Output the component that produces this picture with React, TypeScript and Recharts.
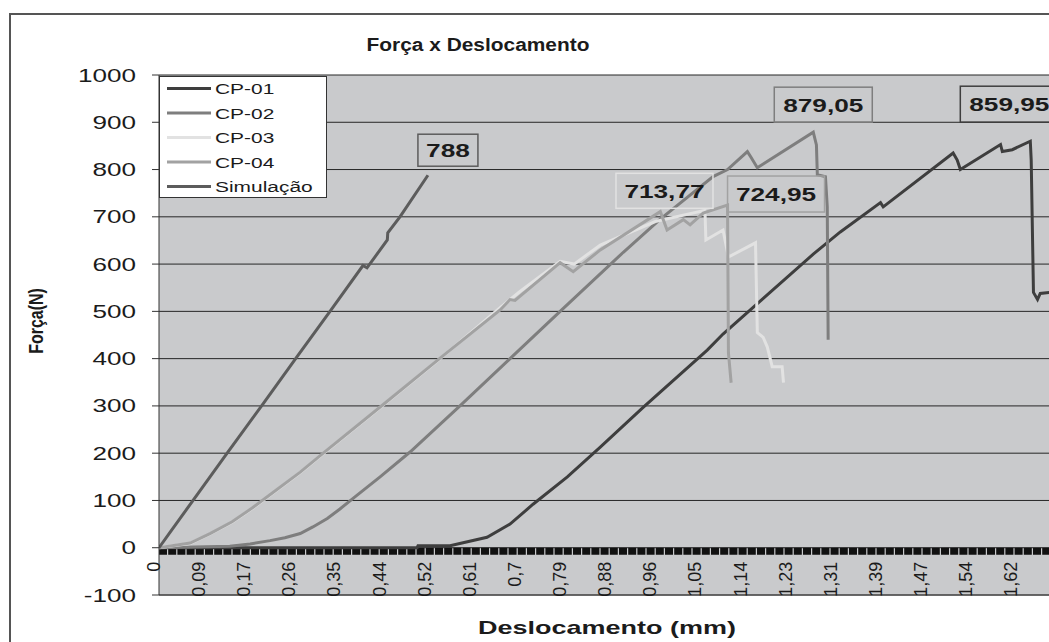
import React from "react";
import {
  LineChart,
  Line,
  XAxis,
  YAxis,
  CartesianGrid,
  Legend,
  ReferenceLine,
  ReferenceDot,
} from "recharts";

const FONT = "'Liberation Sans', Arial, Helvetica, sans-serif";

// x = leitura (amostra), y = força em N
const cp01: [number, number][] = [
  [0, 0], [57.2, 0], [57.4, 4], [64.5, 4], [72.7, 22], [77.8, 50], [82.9, 92],
  [90.5, 150], [97.8, 213], [107.3, 297], [121.5, 418], [125, 452], [133.3, 522],
  [145, 621], [151, 668], [159.9, 730], [160.5, 721], [176, 835], [176.9, 820],
  [177.6, 800], [186.5, 853], [186.9, 838], [189.1, 842], [193.1, 859.95],
  [193.3, 820], [193.8, 540], [194.7, 525], [195.3, 538], [197.3, 540], [203, 545],
];

const cp02: [number, number][] = [
  [0, 0], [15.7, 3], [20.2, 8], [24.6, 15], [27.9, 21], [31.3, 30], [34.1, 44],
  [37.3, 62], [40.1, 82], [43.5, 108], [49, 150], [55.7, 203], [66.7, 300],
  [77.8, 400], [88.9, 500], [102.9, 625], [111.1, 695], [122.8, 785], [126, 800],
  [130.4, 838], [131.2, 826], [132.6, 804], [145, 879.05], [145.7, 852],
  [145.9, 789], [147.7, 785], [148.1, 721], [148.3, 440],
];

const cp03: [number, number][] = [
  [0, 0], [6.9, 9], [11.3, 29], [16.2, 54], [20.8, 84], [25.7, 119], [31.3, 159],
  [36.4, 199], [49.7, 302], [62.3, 400], [75.6, 508], [80, 542], [88.9, 606],
  [92, 600], [97.8, 640], [110, 690], [121, 713.77], [121.2, 651], [125, 672],
  [126.2, 615], [132.2, 645], [132.6, 455], [133.9, 445], [134.8, 425],
  [135.9, 383], [138.1, 383], [138.4, 349],
];

const cp04: [number, number][] = [
  [0, 0], [6.9, 10], [11.3, 30], [16.2, 55], [20.8, 85], [25.7, 120], [31.3, 160],
  [36.4, 200], [49.7, 303], [62.3, 401], [75.6, 503], [77.8, 525], [78.9, 523],
  [88.9, 603], [91.8, 584], [97.8, 630], [111.1, 711], [112.6, 672], [116.2, 694],
  [117.7, 683], [120.6, 708], [126, 724.95], [126.2, 412], [126.8, 349],
];

const simulacao: [number, number][] = [
  [0, 0], [2.4, 32], [15.1, 200], [23.1, 305], [30.6, 404], [37.9, 500],
  [45.2, 597], [46.1, 592], [50.6, 651], [50.7, 666], [53.4, 700], [59.6, 788],
];

const xLabels = [
  "0", "0,09", "0,17", "0,26", "0,35", "0,44", "0,52", "0,61", "0,7", "0,79",
  "0,88", "0,96", "1,05", "1,14", "1,23", "1,31", "1,39", "1,47", "1,54", "1,62",
];
const yTicks = [-100, 0, 100, 200, 300, 400, 500, 600, 700, 800, 900, 1000];

const series = [
  { name: "CP-01", data: cp01, color: "#3e3e3e", label: "859,95", box: [-70, -55, 98, 36] },
  { name: "CP-02", data: cp02, color: "#7e7e7e", label: "879,05", box: [-39, -45, 98, 35] },
  { name: "CP-03", data: cp03, color: "#e2e2e2", label: "713,77", box: [-89, -37, 97, 35] },
  { name: "CP-04", data: cp04, color: "#a2a2a2", label: "724,95", box: [0, -29, 97, 36] },
  { name: "Simulação", data: simulacao, color: "#5c5c5c", label: "788", box: [-10, -41, 60, 32] },
];

const PLOT_TOP = 75;
const PLOT_H = 520;
const ZERO_Y = PLOT_TOP + (PLOT_H * 1000) / 1100;

function SText({ x, y, size, bold, sx = 1.4, anchor = "start", children }: any) {
  return (
    <text
      transform={`translate(${x} ${y}) scale(${sx} 1)`}
      textAnchor={anchor}
      fontSize={size}
      fontWeight={bold ? 700 : 400}
      fontFamily={FONT}
      fill="#1b1b1b"
    >
      {children}
    </text>
  );
}

const XTick = (props: any) => {
  const { x, payload } = props;
  const label = xLabels[Math.round(payload.value / 10)];
  return (
    <text
      transform={`translate(${x - 5} ${ZERO_Y + 14}) rotate(-90)`}
      textAnchor="end"
      dominantBaseline="central"
      fontSize={18}
      fontFamily={FONT}
      fill="#1b1b1b"
    >
      {label}
    </text>
  );
};

const YTick = (props: any) => {
  const { x, y, payload } = props;
  return (
    <SText x={x} y={y + 6.5} size={18} sx={1.45} anchor="end">
      {payload.value}
    </SText>
  );
};

const YTitle = () => (
  <text
    transform="translate(36 321) rotate(-90) scale(1 1.3)"
    textAnchor="middle"
    dominantBaseline="central"
    fontSize={16}
    fontWeight={700}
    fontFamily={FONT}
    fill="#1b1b1b"
  >
    Força(N)
  </text>
);

const XTitle = () => (
  <SText x={607} y={634} size={19} sx={1.42} bold anchor="middle">
    Deslocamento (mm)
  </SText>
);

const LegendBox = () => (
  <svg width={168} height={122} style={{ display: "block" }}>
    <rect x={0.5} y={0.5} width={167} height={121} fill="#fff" stroke="#333" />
    {series.map((s, k) => (
      <g key={s.name}>
        <line x1={8} x2={52} y1={12.5 + k * 24.5} y2={12.5 + k * 24.5} stroke={s.color} strokeWidth={3} />
        <SText x={56} y={18 + k * 24.5} size={15.5} sx={1.35}>
          {s.name}
        </SText>
      </g>
    ))}
  </svg>
);

const PeakLabel = (props: any) => {
  const { viewBox, text, box, color } = props;
  const cx = viewBox.x + (viewBox.width || 0) / 2;
  const cy = viewBox.y + (viewBox.height || 0) / 2;
  const [dx, dy, w, h] = box;
  return (
    <g>
      <rect x={cx + dx} y={cy + dy} width={w} height={h} fill="none" stroke={color} strokeWidth={1.5} />
      <SText x={cx + dx + w / 2} y={cy + dy + h / 2 + 7} size={19} sx={1.38} bold anchor="middle">
        {text}
      </SText>
    </g>
  );
};

const TickBand = (p: any) => (
  <line
    x1={p.x1}
    x2={p.x2}
    y1={p.y1 + 3.5}
    y2={p.y2 + 3.5}
    stroke="#111"
    strokeWidth={7}
    strokeDasharray="8 1.2"
  />
);

export default function App() {
  return (
    <div
      style={{
        position: "absolute",
        left: 0,
        top: 0,
        width: 1049,
        height: 642,
        overflow: "hidden",
        background: "#fff",
      }}
    >
      <div
        style={{
          position: "absolute",
          left: 9,
          top: 13,
          width: 1200,
          height: 800,
          border: "2px solid #555",
        }}
      />
      <div
        style={{
          position: "absolute",
          left: 178,
          top: 35,
          width: 600,
          textAlign: "center",
          fontFamily: FONT,
          fontWeight: 700,
          fontSize: 18,
          color: "#1b1b1b",
          transform: "scaleX(1.16)",
        }}
      >
        Força x Deslocamento
      </div>
      <div style={{ position: "absolute", left: 0, top: 0 }}>
        <LineChart width={1084} height={642} margin={{ top: PLOT_TOP, right: 0, bottom: 0, left: 0 }}>
          <CartesianGrid vertical={false} fill="#c9cacc" stroke="#262626" strokeOpacity={1} />
          <XAxis
            type="number"
            dataKey="i"
            domain={[0, 205]}
            ticks={xLabels.map((_, k) => k * 10)}
            tick={<XTick />}
            tickLine={false}
            axisLine={{ stroke: "#5a5a5a", strokeWidth: 1.5 }}
            height={47}
            allowDataOverflow
            label={<XTitle />}
          />
          <YAxis
            type="number"
            domain={[-100, 1000]}
            ticks={yTicks}
            width={159}
            tickSize={7}
            tickMargin={16}
            tick={<YTick />}
            axisLine={{ stroke: "#333" }}
            tickLine={{ stroke: "#333" }}
            allowDataOverflow
            label={<YTitle />}
          />
          <ReferenceLine y={0} shape={<TickBand />} />
          {series.map((s) => (
            <Line
              key={s.name}
              name={s.name}
              data={s.data.map(([i, f]) => ({ i, f }))}
              dataKey="f"
              type="linear"
              stroke={s.color}
              strokeWidth={3}
              dot={false}
              isAnimationActive={false}
            />
          ))}
          {series.map((s) => {
            const peak = s.data.reduce((a, b) => (b[1] > a[1] ? b : a));
            return (
              <ReferenceDot
                key={"pk-" + s.name}
                x={peak[0]}
                y={peak[1]}
                r={0}
                fill="none"
                stroke="none"
                label={<PeakLabel text={s.label} box={s.box} color={s.color} />}
              />
            );
          })}
          <Legend
            layout="vertical"
            align="center"
            verticalAlign="middle"
            content={<LegendBox />}
            wrapperStyle={{ left: 159, top: 76, width: 168, height: 122 }}
          />
        </LineChart>
      </div>
    </div>
  );
}
